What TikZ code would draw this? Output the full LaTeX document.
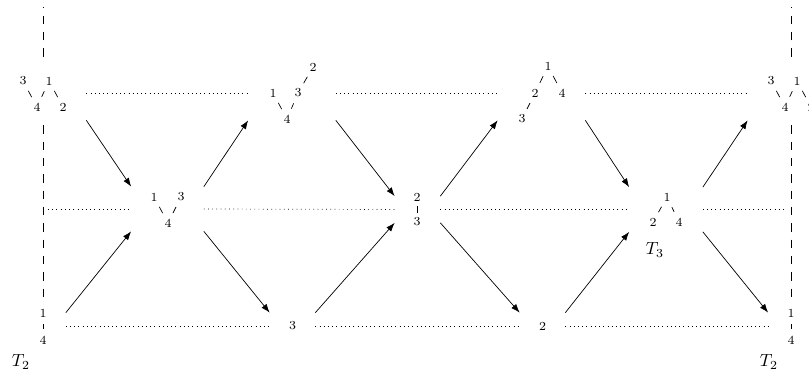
\documentclass[tikz,border=0pt]{standalone}
\usepackage{amssymb}
\usepackage{mathtools}
\usepackage{tikz}
\usetikzlibrary{arrows.meta}

\begin{document}
\begin{tikzpicture}[x=0.02cm,y=-0.02cm,
  upbox/.style={inner sep=0pt,minimum width=#1,minimum height=1.08cm}, upbox/.default=1.72cm,
  midbox/.style={inner sep=0pt,minimum width=#1,minimum height=0.88cm},
  lowbox/.style={inner sep=0pt,minimum width=0.9cm,minimum height=0.52cm,font=\scriptsize},
  lab/.style={inner sep=0pt,font=\scriptsize},
  link/.style={shorten <=#1,shorten >=#1}, link/.default=6.4pt,
  mv/.style={-{Latex[length=5pt,width=3.6pt]}},
  wall/.style={dash pattern=on 4.7pt off 4.6pt}]
\useasboundingbox (0,0) rectangle (809,371);

% the boxes round each group
\node [upbox] (t0) at (43,93) {}; \node [upbox=1.74cm] (t2) at (292,93) {};
\node [upbox=1.74cm] (t4) at (541.5,93) {}; \node [upbox] (t6) at (791,93) {};
\node [midbox=1.44cm] (m1) at (167.5,209) {}; \node [lowbox] (m3) at (417.5,209.5) {};
\node [midbox=1.46cm] (m5) at (666,209.5) {};
\node [lowbox] (b0) at (43,326) {}; \node [lowbox] (b2) at (292.5,326) {3};
\node [lowbox] (b4) at (542.5,326) {2}; \node [lowbox] (b6) at (791,326) {};

% labels
\node [lab] (t0n3) at (23,81) {3}; \node [lab] (t0n1) at (49,81) {1};
\node [lab] (t0n4) at (37,107) {4}; \node [lab] (t0n2) at (63,107) {2};
\draw [link] (t0n3.center) -- (t0n4.center); \draw [link] (t0n1.center) -- (t0n4.center); \draw [link] (t0n1.center) -- (t0n2.center);

\node [lab] (t2n2) at (313,67) {2}; \node [lab] (t2n1) at (273,93) {1};
\node [lab] (t2n3) at (298,93) {3}; \node [lab] (t2n4) at (287,119) {4};
\draw [link] (t2n3.center) -- (t2n2.center); \draw [link] (t2n1.center) -- (t2n4.center); \draw [link] (t2n3.center) -- (t2n4.center);

\node [lab] (t4n1) at (548,66) {1}; \node [lab] (t4n2) at (535,93) {2};
\node [lab] (t4n4) at (562,93) {4}; \node [lab] (t4n3) at (522,119) {3};
\draw [link] (t4n1.center) -- (t4n2.center); \draw [link] (t4n1.center) -- (t4n4.center); \draw [link] (t4n2.center) -- (t4n3.center);

\node [lab] (t6n3) at (771,81) {3}; \node [lab] (t6n1) at (797,81) {1};
\node [lab] (t6n4) at (785,107) {4}; \node [lab] (t6n2) at (811,107) {2};
\draw [link] (t6n3.center) -- (t6n4.center); \draw [link] (t6n1.center) -- (t6n4.center); \draw [link] (t6n1.center) -- (t6n2.center);

\node [lab] (m1n1) at (154,197) {1}; \node [lab] (m1n3) at (181,197) {3}; \node [lab] (m1n4) at (168,223) {4};
\draw [link] (m1n1.center) -- (m1n4.center); \draw [link] (m1n3.center) -- (m1n4.center);

\node [lab] (m3n2) at (417,197) {2}; \node [lab] (m3n3) at (417,222) {3};
\draw [link=5.2pt] (m3n2.center) -- (m3n3.center);

\node [lab] (m5n1) at (667,197) {1}; \node [lab] (m5n2) at (653,222) {2}; \node [lab] (m5n4) at (679,222) {4};
\draw [link] (m5n1.center) -- (m5n2.center); \draw [link] (m5n1.center) -- (m5n4.center);

\node [lab] (b0n1) at (43,313) {1}; \node [lab] (b0n4) at (43,340) {4};
\draw [link=6.3pt] (b0n1.center) -- (b0n4.center);
\node [lab] (b6n1) at (791,313) {1}; \node [lab] (b6n4) at (791,340) {4};
\draw [link=6.3pt] (b6n1.center) -- (b6n4.center);

\node (lt2) at (21,362) {$T_2$}; \node (rt2) at (769,362) {$T_2$};
\node (mt3) at (655,250) {$T_3$};

% dotted rows
\coordinate (mL) at (48,209); \coordinate (mR) at (786,209.5);
\draw [dotted] (t0.east) -- (t2.west); \draw [dotted] (t2.east) -- (t4.west); \draw [dotted] (t4.east) -- (t6.west);
\draw [dotted] (mL) -- (m1.west); \draw [dotted] (m1.east) -- (m3.west);
\draw [dotted] (m3.east) -- (m5.west); \draw [dotted] (m5.east) -- (mR);
\draw [dotted] (b0.east) -- (b2.west); \draw [dotted] (b2.east) -- (b4.west); \draw [dotted] (b4.east) -- (b6.west);

% dashed walls
\coordinate (v0) at (43,7); \coordinate (v6) at (791,7);
\draw [wall,shorten <=5.1pt] (t0.north) -- (v0); \draw [wall,shorten <=2.8pt,shorten >=7.4pt] (t0.south) -- (b0.north);
\draw [wall,shorten <=5.1pt] (t6.north) -- (v6); \draw [wall,shorten <=2.8pt,shorten >=7.4pt] (t6.south) -- (b6.north);

% moves
\draw [mv] (t0.south east) -- (m1.north west); \draw [mv] (b0.north east) -- (m1.south west);
\draw [mv] (m1.north east) -- (t2.south west); \draw [mv] (m1.south east) -- (b2.north west);
\draw [mv] (t2.south east) -- (m3.north west); \draw [mv] (b2.north east) -- (m3.south west);
\draw [mv] (m3.north east) -- (t4.south west); \draw [mv] (m3.south east) -- (b4.north west);
\draw [mv] (t4.south east) -- (m5.north west); \draw [mv] (b4.north east) -- (m5.south west);
\draw [mv] (m5.north east) -- (t6.south west); \draw [mv] (m5.south east) -- (b6.north west);
\end{tikzpicture}
\end{document}
